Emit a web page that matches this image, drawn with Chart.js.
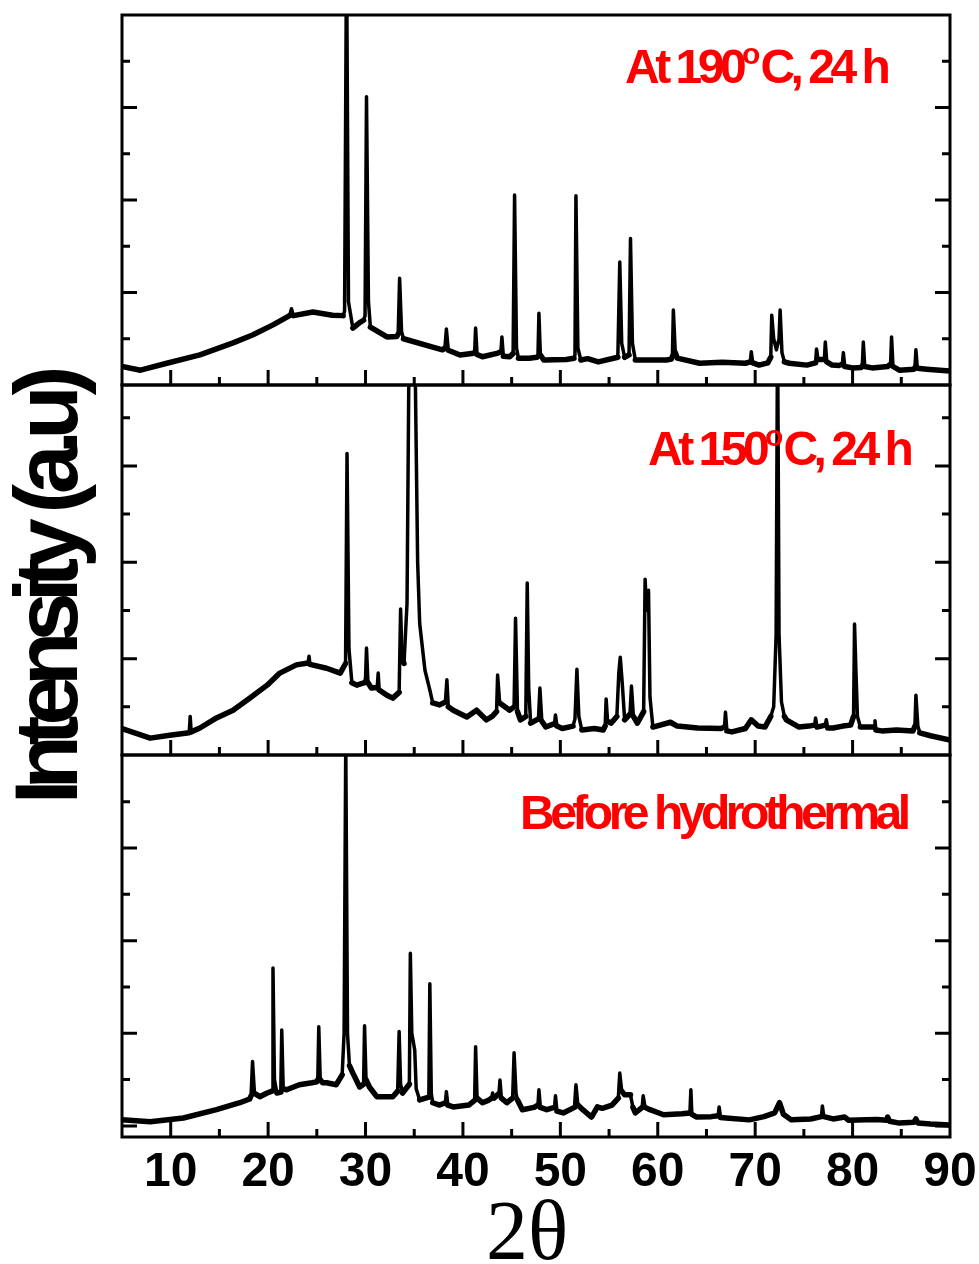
<!DOCTYPE html>
<html>
<head>
<meta charset="utf-8">
<script src="https://cdn.jsdelivr.net/npm/chart.js@4.4.1/dist/chart.umd.min.js"></script>
<style>
  body { margin: 0; width: 979px; height: 1264px; background: #fff; position: relative; overflow: hidden; font-family: "Liberation Sans", Arial, sans-serif; }
  canvas { position: absolute; left: 112px; }
  .tag { position: absolute; color: #ff0000; font-weight: bold; font-size: 48px; line-height: 1; letter-spacing: -4.5px; white-space: nowrap; }
  .tag .deg { font-size: 30px; vertical-align: 19px; letter-spacing: 0; }
  #y-title { position: absolute; left: 46px; top: 590px; transform: translate(-50%, -50%) rotate(-90deg); font-weight: bold; font-size: 89px; line-height: 1; letter-spacing: -10px; white-space: nowrap; color: #000; }
  #x-title { position: absolute; left: 527px; top: 1189px; transform: translateX(-50%); font-family: "Liberation Serif", "Times New Roman", serif; font-size: 84px; line-height: 1; white-space: nowrap; color: #000; }
</style>
</head>
<body>
<canvas id="chart-190" width="872" height="390" style="top:5px"></canvas>
<canvas id="chart-150" width="872" height="390" style="top:375px"></canvas>
<canvas id="chart-raw" width="872" height="458" style="top:745px"></canvas>

<div class="tag" style="left:625px; top:39px">At 190<span class="deg">o</span>C, 24 h</div>
<div class="tag" style="left:648px; top:421px">At 150<span class="deg">o</span>C, 24 h</div>
<div class="tag" style="left:520px; top:789px">Before hydrothermal</div>
<div id="y-title">Intensity (a.u)</div>
<div id="x-title">2θ</div>

<script>
// 2-theta axis
const xLabelValues = [10, 20, 30, 40, 50, 60, 70, 80, 90];
const xMajorTicks = [10, 20, 30, 40, 50, 60, 70, 80];
const xMinorTicks = [15, 25, 35, 45, 55, 65, 75, 85];

// intensity tick marks (unlabelled)
const yMajorTicks = [0, 200, 400, 600];
const yMinorTicks = [100, 300, 500, 700];

// [2theta, intensity]
const scan190 = [
    [5.0, 40], [6.9, 32], [9.6, 47], [13.0, 65], [16.4, 91], [18.4, 108], [20.5, 130],
    [22.2, 150], [22.4, 165], [22.6, 150], [24.6, 158], [26.6, 151], [27.7, 150],
    [27.85, 160], [28.05, 950], [28.25, 180], [28.7, 123], [29.4, 135], [29.8, 140],
    [29.95, 150], [30.1, 623], [30.3, 180], [30.5, 125], [32.2, 104], [33.2, 105],
    [33.35, 110], [33.5, 231], [33.7, 115], [33.9, 100], [36.9, 82], [37.9, 76],
    [38.15, 80], [38.3, 121], [38.5, 75], [39.7, 65], [40.9, 68], [41.2, 70], [41.3, 123],
    [41.45, 66], [42.0, 61], [43.6, 69], [43.9, 72], [44.0, 104], [44.15, 62], [44.8, 61],
    [45.15, 68], [45.3, 411], [45.5, 80], [45.7, 58], [46.8, 58], [47.6, 60], [47.7, 62],
    [47.8, 155], [47.95, 65], [48.3, 54], [50.6, 55], [51.4, 58], [51.5, 65], [51.6, 409],
    [51.8, 80], [52.1, 54], [52.8, 57], [53.9, 50], [55.9, 60], [56.1, 266], [56.3, 90],
    [56.6, 60], [57.05, 65], [57.2, 317], [57.4, 90], [57.7, 54], [60.9, 54], [61.4, 56],
    [61.5, 62], [61.6, 162], [61.8, 70], [62.0, 58], [64.3, 47], [66.6, 49], [69.0, 47],
    [69.5, 50], [69.6, 72], [69.75, 48], [70.4, 43], [71.3, 48], [71.6, 60], [71.7, 151],
    [71.9, 100], [72.18, 76], [72.45, 100], [72.56, 162], [72.75, 70], [73.0, 50],
    [73.5, 47], [75.3, 43], [76.2, 48], [76.3, 78], [76.45, 55], [77.1, 55], [77.2, 93],
    [77.35, 50], [77.9, 43], [78.6, 42], [78.95, 45], [79.05, 70], [79.2, 40], [80.0, 37],
    [80.9, 38], [81.0, 42], [81.1, 93], [81.25, 40], [82.0, 37], [83.6, 40], [83.9, 45],
    [84.0, 104], [84.15, 40], [84.8, 32], [86.3, 34], [86.4, 38], [86.5, 76], [86.65, 36],
    [87.6, 34], [90.0, 30]
];

const scan150 = [
    [5.0, 55], [7.9, 35], [9.9, 41], [11.9, 46], [12.0, 80], [12.1, 48], [13.0, 56],
    [14.7, 77], [16.4, 93], [18.1, 118], [19.9, 145], [21.2, 170], [22.9, 187], [24.1, 191],
    [24.2, 205], [24.3, 188], [26.0, 180], [27.4, 170], [27.95, 190], [28.1, 626],
    [28.3, 220], [28.6, 150], [29.1, 145], [29.9, 150], [30.0, 160], [30.1, 222],
    [30.25, 150], [30.6, 139], [31.2, 140], [31.3, 170], [31.4, 135], [32.2, 124],
    [32.8, 118], [33.45, 130], [33.6, 303], [33.75, 200], [33.95, 190], [34.26, 315],
    [34.45, 800], [34.55, 1100], [34.95, 1100], [35.1, 800], [35.35, 400], [35.56, 273],
    [36.1, 176], [36.6, 135], [36.9, 108], [37.6, 104], [38.2, 110], [38.35, 156],
    [38.5, 100], [39.0, 93], [40.4, 79], [41.4, 93], [42.4, 73], [43.0, 80], [43.45, 90],
    [43.56, 166], [43.77, 108], [44.8, 93], [45.25, 100], [45.4, 284], [45.6, 90],
    [45.9, 73], [46.45, 80], [46.6, 357], [46.75, 140], [46.95, 66], [47.75, 75],
    [47.9, 139], [48.1, 70], [48.5, 58], [49.4, 65], [49.5, 83], [49.65, 60], [50.2, 55],
    [51.3, 60], [51.5, 75], [51.7, 178], [51.9, 80], [52.2, 52], [53.5, 55], [54.4, 52],
    [54.6, 60], [54.7, 116], [54.85, 70], [55.2, 66], [55.8, 80], [56.0, 170], [56.15, 203],
    [56.35, 150], [56.6, 73], [57.15, 85], [57.3, 143], [57.5, 80], [57.9, 66], [58.55, 90],
    [58.7, 365], [58.85, 300], [59.05, 342], [59.2, 120], [59.5, 58], [61.3, 68], [62.0, 60],
    [64.1, 56], [66.5, 55], [66.85, 58], [66.95, 89], [67.1, 50], [67.6, 48], [69.0, 55],
    [69.6, 73], [70.3, 60], [71.0, 58], [71.6, 80], [71.9, 100], [72.15, 250], [72.3, 900],
    [72.45, 250], [72.7, 110], [73.0, 80], [73.2, 73], [74.5, 58], [75.5, 60], [76.1, 62],
    [76.2, 77], [76.35, 58], [77.2, 62], [77.3, 73], [77.45, 56], [78.0, 56], [79.0, 60],
    [79.8, 62], [80.1, 80], [80.2, 272], [80.35, 170], [80.5, 80], [80.8, 58], [82.2, 58],
    [82.3, 71], [82.4, 52], [83.0, 50], [84.5, 52], [86.2, 50], [86.4, 60], [86.5, 124],
    [86.7, 60], [86.9, 46], [88.0, 40], [90.0, 31]
];

const scanRaw = [
    [5.0, 13], [7.9, 9], [11.3, 17], [14.7, 35], [17.1, 50], [18.1, 58], [18.25, 65],
    [18.4, 139], [18.6, 70], [19.15, 63], [19.9, 71], [20.4, 75], [20.5, 341], [20.65, 100],
    [20.9, 71], [21.3, 73], [21.4, 207], [21.55, 80], [21.9, 78], [23.2, 89], [24.5, 93],
    [25.0, 95], [25.1, 100], [25.2, 214], [25.35, 100], [25.6, 93], [26.0, 93], [27.0, 89],
    [27.6, 110], [27.8, 200], [27.97, 830], [28.15, 200], [28.35, 130], [28.7, 114],
    [29.4, 84], [29.8, 90], [29.9, 216], [30.05, 100], [30.4, 84], [31.15, 63], [32.8, 63],
    [33.3, 75], [33.45, 204], [33.6, 90], [33.8, 71], [34.5, 90], [34.6, 373], [34.75, 200],
    [35.05, 164], [35.2, 80], [35.56, 56], [36.5, 62], [36.6, 307], [36.75, 70], [36.9, 50],
    [37.6, 45], [38.2, 50], [38.3, 74], [38.45, 45], [39.0, 41], [40.6, 45], [41.2, 55],
    [41.3, 171], [41.45, 60], [42.0, 50], [42.6, 55], [42.95, 60], [43.05, 71], [43.2, 60],
    [43.7, 70], [43.8, 99], [43.95, 60], [44.5, 50], [45.1, 60], [45.25, 158], [45.45, 70],
    [45.6, 56], [46.1, 35], [47.3, 40], [47.7, 45], [47.8, 78], [47.95, 40], [48.6, 35],
    [49.4, 40], [49.5, 65], [49.65, 32], [50.3, 28], [51.45, 40], [51.6, 89], [51.8, 45],
    [52.3, 35], [53.2, 19], [53.8, 41], [54.3, 38], [55.3, 45], [55.95, 60], [56.1, 114],
    [56.3, 75], [56.6, 67], [57.2, 67], [57.45, 40], [57.7, 28], [58.4, 40], [58.5, 65],
    [58.7, 40], [59.2, 35], [60.6, 24], [62.5, 26], [63.3, 28], [63.4, 78], [63.5, 25],
    [64.0, 19], [65.5, 20], [66.2, 22], [66.3, 41], [66.45, 18], [67.0, 17], [69.4, 13],
    [70.9, 20], [72.0, 28], [72.5, 50], [72.9, 25], [73.7, 13], [75.7, 15], [76.8, 20],
    [76.9, 43], [77.05, 20], [78.0, 15], [79.2, 19], [79.6, 12], [81.4, 13], [82.5, 14],
    [83.5, 12], [83.6, 19], [83.8, 10], [84.8, 6], [86.3, 8], [86.5, 15], [86.7, 6],
    [88.0, 4], [90.0, 2]
];

// frame with inward ticks, like the original plot
const framePlugin = {
    id: "frame",
    afterDatasetsDraw(chart) {
        const { ctx, chartArea: a, scales: { x, y } } = chart;
        ctx.save();
        ctx.strokeStyle = "#000";
        ctx.lineWidth = 3;
        ctx.beginPath();
        xMajorTicks.forEach(v => {
            const px = x.getPixelForValue(v);
            ctx.moveTo(px, a.bottom);
            ctx.lineTo(px, a.bottom - 15);
        });
        xMinorTicks.forEach(v => {
            const px = x.getPixelForValue(v);
            ctx.moveTo(px, a.bottom);
            ctx.lineTo(px, a.bottom - 8);
        });
        const yTick = (v, len) => {
            if (v <= y.min || v >= y.max) return;
            const py = y.getPixelForValue(v);
            ctx.moveTo(a.left, py);
            ctx.lineTo(a.left + len, py);
            ctx.moveTo(a.right, py);
            ctx.lineTo(a.right - len, py);
        };
        yMajorTicks.forEach(v => yTick(v, 15));
        yMinorTicks.forEach(v => yTick(v, 8));
        ctx.stroke();
        ctx.strokeRect(a.left, a.top, a.right - a.left, a.bottom - a.top);
        ctx.restore();
    }
};

// the noisy baseline reads as a heavier band than the sharp peaks
function segmentWidth(c) {
    const dx = Math.abs(c.p1.x - c.p0.x) || 0.1;
    const dy = Math.abs(c.p1.y - c.p0.y);
    return dy / dx > 3 ? 3.5 : 5.5;
}

function makePanel(id, scan, yMin, yMax, showLabels) {
    const xScale = {
        type: "linear",
        min: 5,
        max: 90,
        display: showLabels,
        grid: { display: false, drawTicks: false },
        border: { display: false },
        ticks: {
            color: "#000",
            padding: 7,
            maxRotation: 0,
            autoSkip: false,
            font: { family: "Liberation Sans", size: 48, weight: "bold" }
        }
    };
    if (showLabels) {
        xScale.afterBuildTicks = s => { s.ticks = xLabelValues.map(v => ({ value: v })); };
        xScale.afterFit = s => { s.height = 66; };
    }

    new Chart(document.getElementById(id), {
        type: "line",
        data: {
            datasets: [{
                data: scan.map(p => ({ x: p[0], y: p[1] })),
                borderColor: "#000",
                borderWidth: 4,
                borderCapStyle: "round",
                borderJoinStyle: "round",
                pointRadius: 0,
                tension: 0,
                segment: { borderWidth: segmentWidth }
            }]
        },
        options: {
            responsive: false,
            animation: false,
            devicePixelRatio: 1,
            events: [],
            layout: { padding: { left: 10, right: 34, top: 10, bottom: showLabels ? 0 : 10 } },
            plugins: { legend: { display: false }, tooltip: { enabled: false } },
            scales: {
                x: xScale,
                y: { min: yMin, max: yMax, display: false }
            }
        },
        plugins: [framePlugin]
    });
}

makePanel("chart-190", scan190, 0, 800, false);
makePanel("chart-150", scan150, 0, 768, false);
makePanel("chart-raw", scanRaw, -24, 801, true);
</script>
</body>
</html>
